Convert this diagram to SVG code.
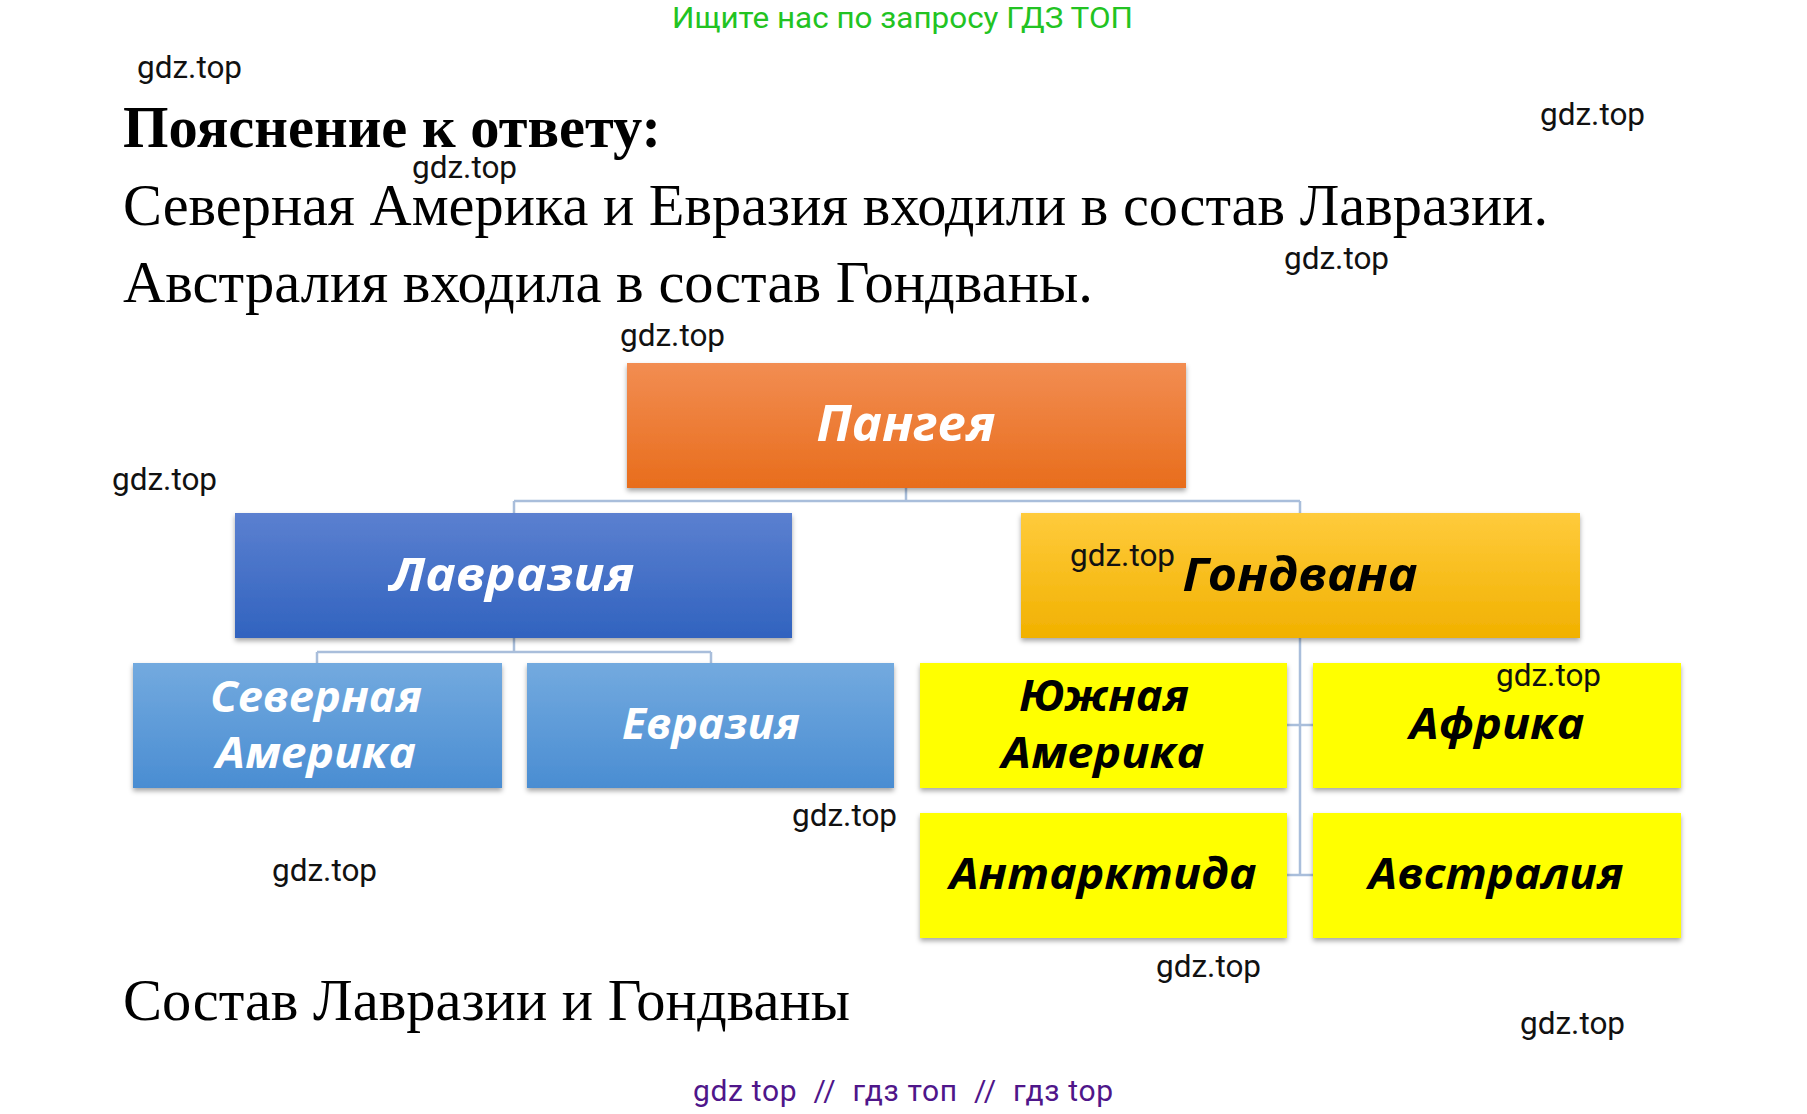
<svg xmlns="http://www.w3.org/2000/svg" width="1807" height="1114" viewBox="0 0 1807 1114">
<style>
.wm{font-family:Roboto,"Liberation Sans",sans-serif;font-size:31.5px;fill:#111}
.serif{font-family:"Liberation Serif","Times New Roman",serif;font-size:60px;fill:#000}
.bold{font-weight:bold}
.lbl{font-family:"Open Sans","Noto Sans",sans-serif;font-weight:bold;font-style:italic;text-anchor:middle}
.w{fill:#fff}
.k{fill:#000}
.conn{stroke:#a9bedb;stroke-width:2.5;fill:none}
</style>
<defs>
<linearGradient id="gO" x1="0" y1="0" x2="0" y2="1"><stop offset="0" stop-color="#f28d52"/><stop offset="1" stop-color="#e86d1c"/></linearGradient>
<linearGradient id="gB" x1="0" y1="0" x2="0" y2="1"><stop offset="0" stop-color="#5b80d0"/><stop offset="1" stop-color="#3163bf"/></linearGradient>
<linearGradient id="gL" x1="0" y1="0" x2="0" y2="1"><stop offset="0" stop-color="#73aadf"/><stop offset="1" stop-color="#4a8dd2"/></linearGradient>
<linearGradient id="gG" x1="0" y1="0" x2="0" y2="1"><stop offset="0" stop-color="#ffcb3c"/><stop offset="1" stop-color="#f1b100"/></linearGradient>
<filter id="sh" x="-5%" y="-10%" width="110%" height="130%"><feDropShadow dx="0" dy="3" stdDeviation="2.5" flood-color="#000" flood-opacity="0.35"/></filter>
</defs>
<rect width="1807" height="1114" fill="#fff"/>

<text x="672" y="28" font-family="Roboto,'Liberation Sans',sans-serif" font-size="29.5" fill="#22c322" textLength="461" lengthAdjust="spacingAndGlyphs">Ищите нас по запросу ГДЗ ТОП</text>

<text class="serif bold" x="123" y="147" textLength="538" lengthAdjust="spacingAndGlyphs">Пояснение к ответу:</text>
<text class="serif" x="123" y="225" textLength="1425" lengthAdjust="spacingAndGlyphs">Северная Америка и Евразия входили в состав Лавразии.</text>
<text class="serif" x="123" y="302" textLength="970" lengthAdjust="spacingAndGlyphs">Австралия входила в состав Гондваны.</text>
<text class="serif" x="123" y="1020" textLength="727" lengthAdjust="spacingAndGlyphs">Состав Лавразии и Гондваны</text>

<g id="connectors">
<path class="conn" d="M906 487V501M514 501H1300M514 501V513M1300 501V513"/>
<path class="conn" d="M514 637V652M317 652H711M317 652V663M711 652V663"/>
<path class="conn" d="M1300 637V875M1287 725H1313M1287 875H1313"/>
</g>

<g id="pangea"><rect x="627" y="363" width="559" height="125" fill="url(#gO)" filter="url(#sh)"/><text class="lbl w" x="906" y="441" font-size="51" textLength="179" lengthAdjust="spacingAndGlyphs">Пангея</text></g>
<g id="lavrazia"><rect x="235" y="513" width="557" height="125" fill="url(#gB)" filter="url(#sh)"/><text class="lbl w" x="512" y="591" font-size="47" textLength="245" lengthAdjust="spacingAndGlyphs">Лавразия</text></g>
<g id="gondvana"><rect x="1021" y="513" width="559" height="125" fill="url(#gG)" filter="url(#sh)"/><text class="lbl k" x="1300" y="591" font-size="47" textLength="235" lengthAdjust="spacingAndGlyphs">Гондвана</text></g>
<g id="sev-amerika"><rect x="133" y="663" width="369" height="125" fill="url(#gL)" filter="url(#sh)"/><text class="lbl w" font-size="43"><tspan x="316" y="712" textLength="212" lengthAdjust="spacingAndGlyphs">Северная</tspan><tspan x="316" y="768" textLength="200" lengthAdjust="spacingAndGlyphs">Америка</tspan></text></g>
<g id="evrazia"><rect x="527" y="663" width="367" height="125" fill="url(#gL)" filter="url(#sh)"/><text class="lbl w" x="711" y="739" font-size="43" textLength="178" lengthAdjust="spacingAndGlyphs">Евразия</text></g>
<g id="yuzh-amerika"><rect x="920" y="663" width="367" height="125" fill="#ffff00" filter="url(#sh)"/><text class="lbl k" font-size="43"><tspan x="1104" y="711" textLength="170" lengthAdjust="spacingAndGlyphs">Южная</tspan><tspan x="1103" y="768" textLength="203" lengthAdjust="spacingAndGlyphs">Америка</tspan></text></g>
<g id="afrika"><rect x="1313" y="663" width="368" height="125" fill="#ffff00" filter="url(#sh)"/><text class="lbl k" x="1497" y="739" font-size="43" textLength="175" lengthAdjust="spacingAndGlyphs">Африка</text></g>
<g id="antarktida"><rect x="920" y="813" width="367" height="125" fill="#ffff00" filter="url(#sh)"/><text class="lbl k" x="1103" y="889" font-size="43" textLength="307" lengthAdjust="spacingAndGlyphs">Антарктида</text></g>
<g id="avstraliya"><rect x="1313" y="813" width="368" height="125" fill="#ffff00" filter="url(#sh)"/><text class="lbl k" x="1496" y="889" font-size="43" textLength="255" lengthAdjust="spacingAndGlyphs">Австралия</text></g>

<g id="watermarks">
<text class="wm" x="137" y="78">gdz.top</text>
<text class="wm" x="1540" y="125">gdz.top</text>
<text class="wm" x="412" y="178">gdz.top</text>
<text class="wm" x="1284" y="269">gdz.top</text>
<text class="wm" x="620" y="346">gdz.top</text>
<text class="wm" x="112" y="490">gdz.top</text>
<text class="wm" x="1070" y="566">gdz.top</text>
<text class="wm" x="1496" y="686">gdz.top</text>
<text class="wm" x="792" y="826">gdz.top</text>
<text class="wm" x="272" y="881">gdz.top</text>
<text class="wm" x="1156" y="977">gdz.top</text>
<text class="wm" x="1520" y="1034">gdz.top</text>
</g>

<text x="693" y="1101" font-family="Roboto,'Liberation Sans',sans-serif" font-size="30" fill="#4f168a" xml:space="preserve" textLength="420" lengthAdjust="spacing">gdz top  //  гдз топ  //  гдз top</text>
</svg>
